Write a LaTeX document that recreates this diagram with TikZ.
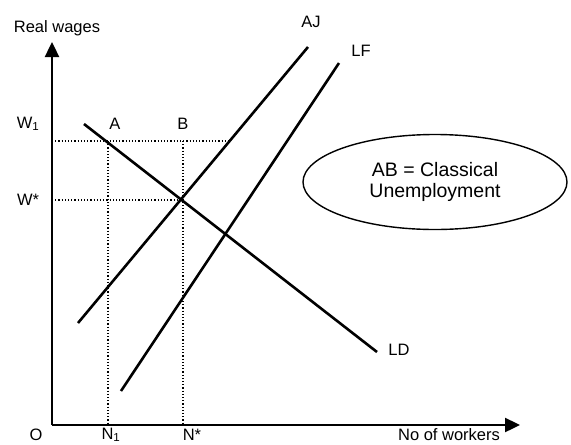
\documentclass[tikz,border=0pt]{standalone}
\usepackage{fontspec}
\setmainfont{Liberation Sans}
\usetikzlibrary{arrows.meta, shapes.geometric}

\begin{document}
\begin{tikzpicture}[x=1pt, y=-1pt, >={Triangle[length=15pt, width=14pt]},
  font=\fontsize{16.5}{19}\selectfont,
  axis/.style={line width=2.4pt},
  curve/.style={line width=2.6pt},
  guide/.style={line width=1.2pt, dotted},
  tick/.style={inner sep=1pt}]
  \useasboundingbox (0,0) rectangle (571,445);

  % axes
  \coordinate (O) at (52,425);
  \coordinate (ytop) at (52,42);
  \coordinate (xend) at (520,425);
  \draw[axis, ->] (O) -- (ytop);
  \draw[axis, ->] (O) -- (xend);
  \node (ylab) at (57,28) {Real wages};
  \node[tick] (xlab) at (449,435) {No of workers};
  \node[tick] (olab) at (36,435) {O};

  % wage levels and employment levels
  \coordinate (w1) at (52,141);
  \coordinate (ws) at (52,200);
  \coordinate (n1) at (108,425);
  \coordinate (ns) at (183,425);
  \coordinate (ptA) at (108,141);
  \coordinate (ptB) at (183,141);
  \coordinate (ptE) at (182,200);
  \coordinate (ptJ) at (229,141);
  \draw[guide] (w1) -- (ptJ);
  \draw[guide] (ws) -- (ptE);
  \draw[guide] (ptA) -- (n1);
  \draw[guide] (ptB) -- (ns);
  \node (w1lab) at (28,124) {W\textsubscript{1}};
  \node (wslab) at (28,200) {W*};
  \node[tick] (n1lab) at (111,435) {N\textsubscript{1}};
  \node[tick] (nslab) at (192,435) {N*};
  \node (alab) at (115,124) {A};
  \node (blab) at (183,124) {B};

  % labour demand, accepting jobs, labour force
  \coordinate (ld1) at (84,124);
  \coordinate (ld2) at (377,352);
  \coordinate (aj1) at (78,323);
  \coordinate (aj2) at (308,47);
  \coordinate (lf1) at (121,391);
  \coordinate (lf2) at (339,63);
  \draw[curve] (ld1) -- (ld2);
  \draw[curve] (aj1) -- (aj2);
  \draw[curve] (lf1) -- (lf2);
  \node (ldlab) at (399,350) {LD};
  \node (ajlab) at (311,22) {AJ};
  \node (lflab) at (361,51) {LF};

  \node[ellipse, draw, line width=1.4pt, minimum width=264pt,
    minimum height=95pt, align=center,
    font=\fontsize{19.5}{21}\selectfont] (note) at (435,182)
    {AB = Classical\\Unemployment};
\end{tikzpicture}
\end{document}
